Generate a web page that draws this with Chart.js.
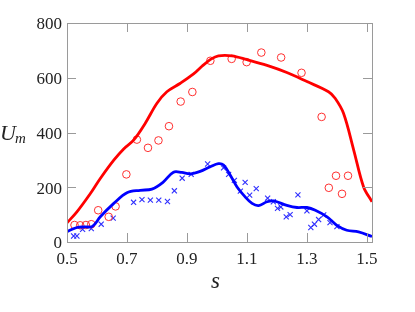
<!DOCTYPE html>
<html><head><meta charset="utf-8">
<script src="https://cdn.jsdelivr.net/npm/chart.js@4/dist/chart.umd.min.js"></script>
<style>html,body{margin:0;padding:0;background:#fff}#wrap{width:415px;height:312px;position:relative}</style>
</head><body><div id="wrap"><canvas id="c"></canvas></div>
<script>
// Simulation curves
const redLineS = [0.5,0.533,0.578,0.611,0.656,0.689,0.722,0.761,0.8,0.833,0.878,0.922,0.95,0.98,1.005,1.05,1.1,1.167,1.233,1.3,1.372,1.394,1.422,1.456,1.489,1.517];
const redLineU = [70,110,177,232,299,340,372,434,507,549,580,614,642,668,680,680,666,645,619,586,549,525,470,336,201,147];
const blueLineS = [0.5,0.533,0.56,0.585,0.611,0.656,0.7,0.744,0.783,0.82,0.855,0.883,0.911,0.944,0.978,1.005,1.022,1.044,1.067,1.094,1.117,1.139,1.167,1.189,1.233,1.267,1.3,1.328,1.367,1.4,1.433,1.472,1.517];
const blueLineU = [38,53,55,57,92,141,180,189,193,218,255,254,249,258,275,286,281,245,201,165,141,133,147,150,134,126,126,116,92,61,43,37,20];
// Measured points
const redPtS = [0.525,0.544,0.563,0.581,0.604,0.639,0.662,0.698,0.733,0.77,0.805,0.84,0.879,0.918,0.978,1.049,1.099,1.148,1.214,1.282,1.349,1.373,1.397,1.437,1.417];
const redPtU = [62,61,62,65,116,92,130,247,374,344,371,423,513,548,662,669,657,692,674,618,457,198,242,242,176];
const bluePtS = [0.522,0.533,0.552,0.581,0.614,0.654,0.722,0.75,0.778,0.806,0.835,0.858,0.884,0.914,0.969,1.022,1.039,1.058,1.078,1.094,1.109,1.131,1.169,1.188,1.202,1.213,1.231,1.244,1.27,1.3,1.313,1.325,1.339,1.356,1.377,1.4];
const bluePtU = [22,22,46,49,65,87,145,155,153,153,148,187,233,247,285,271,247,225,186,218,171,195,160,147,123,128,92,100,172,114,53,65,82,99,71,56];
// Axis ticks
const xTicks = [0.5,0.7,0.9,1.1,1.3,1.5];
const yTicks = [0,200,400,600,800];

const pts = (xs, ys) => xs.map((x,i)=>({x:x,y:ys[i]}));
const SERIF = '"Liberation Serif","DejaVu Serif",serif';

const framePlugin = {
  id:'frame',
  afterDatasetsDraw(chart){
    const {ctx, chartArea:a, scales:{x,y}} = chart;
    ctx.save();
    ctx.strokeStyle = '#9a9a9a'; ctx.lineWidth = 1;
    ctx.strokeRect(Math.round(a.left)+0.5, Math.round(a.top)+0.5, Math.round(a.right-a.left), Math.round(a.bottom-a.top));
    const L = 9;
    ctx.beginPath();
    xTicks.forEach(v=>{ const px = Math.round(x.getPixelForValue(v))+0.5;
      ctx.moveTo(px,a.bottom); ctx.lineTo(px,a.bottom-L);
      ctx.moveTo(px,a.top); ctx.lineTo(px,a.top+L); });
    yTicks.forEach(v=>{ const py = Math.round(y.getPixelForValue(v))+0.5;
      ctx.moveTo(a.left,py); ctx.lineTo(a.left+L,py);
      ctx.moveTo(a.right,py); ctx.lineTo(a.right-L,py); });
    ctx.stroke();
    // axis titles
    ctx.fillStyle = '#222';
    ctx.textBaseline = 'alphabetic'; ctx.textAlign = 'left';
    ctx.font = 'italic 22px ' + SERIF;
    ctx.fillText('U', 0, 140);
    ctx.font = 'italic 15px ' + SERIF;
    ctx.fillText('m', 15, 143);
    ctx.font = 'italic 23px ' + SERIF;
    ctx.fillText('s', 211, 288);
    ctx.restore();
  }
};

new Chart(document.getElementById('c'), {
  type:'scatter',
  data:{datasets:[
    {type:'line', data:pts(redLineS, redLineU), borderColor:'#ff0000', borderWidth:2.8, pointRadius:0, tension:0.35, fill:false},
    {type:'line', data:pts(blueLineS, blueLineU), borderColor:'#0000ff', borderWidth:2.8, pointRadius:0, tension:0.35, fill:false},
    {data:pts(redPtS, redPtU), pointStyle:'circle', pointRadius:3.8, borderColor:'#ff3030', backgroundColor:'rgba(0,0,0,0)', borderWidth:1},
    {data:pts(bluePtS, bluePtU), pointStyle:'crossRot', pointRadius:3.6, borderColor:'#3030ff', backgroundColor:'#3030ff', borderWidth:1.1}
  ]},
  options:{
    responsive:true, maintainAspectRatio:false, animation:false,
    layout:{padding:{left:0, top:23, right:43, bottom:0}},
    plugins:{legend:{display:false}, tooltip:{enabled:false}},
    scales:{
      x:{type:'linear', min:0.5, max:1.517,
        afterBuildTicks:(s)=>{ s.ticks = xTicks.map(v=>({value:v})); },
        afterFit:(s)=>{ s.height = 70; },
        grid:{display:false, drawTicks:false}, border:{display:false},
        ticks:{color:'#222', font:{family:SERIF, size:17}, padding:7, maxRotation:0,
          callback:(v)=>Number(v).toFixed(1)}},
      y:{type:'linear', min:0, max:800,
        afterBuildTicks:(s)=>{ s.ticks = yTicks.map(v=>({value:v})); },
        afterFit:(s)=>{ s.width = 67; },
        grid:{display:false, drawTicks:false}, border:{display:false},
        ticks:{color:'#222', font:{family:SERIF, size:17}, padding:5, labelOffset:2}}
    }
  },
  plugins:[framePlugin]
});
</script></body></html>
